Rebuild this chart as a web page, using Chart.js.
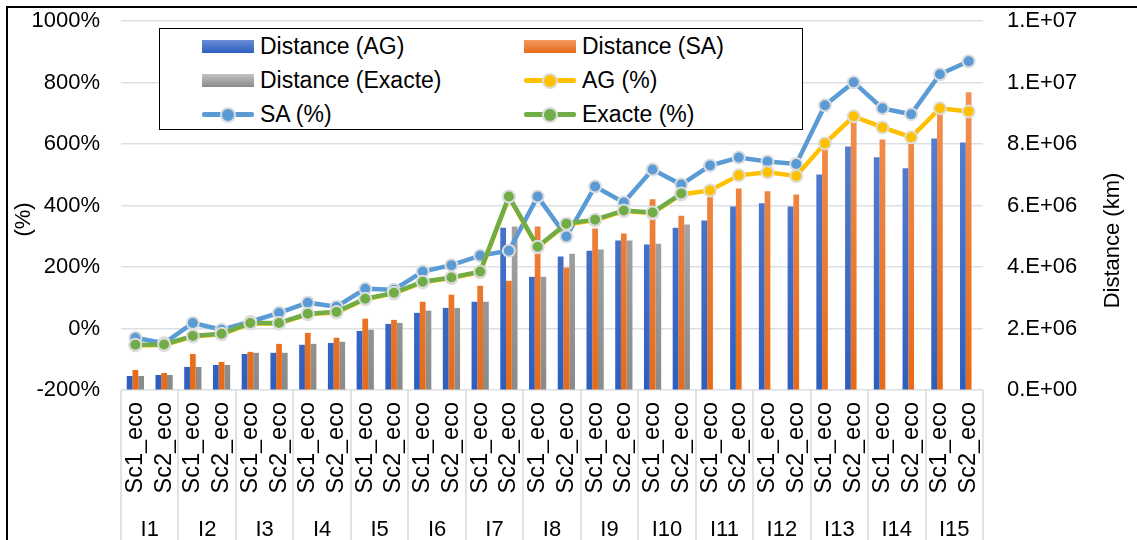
<!DOCTYPE html>
<html>
<head>
<meta charset="utf-8">
<script src="https://cdn.jsdelivr.net/npm/chart.js@4.4.1/dist/chart.umd.min.js"></script>
<style>
  body { margin: 0; background: #fff; font-family: "Liberation Sans", Arial, sans-serif; }
  #wrap { position: relative; width: 1137px; height: 540px; overflow: hidden; }
  #frame { position: absolute; left: 6px; top: 6px; width: 1200px; height: 600px;
           border-left: 2.5px solid #000; border-top: 2.5px solid #000; pointer-events: none; }
  #legend { position: absolute; left: 159px; top: 28px; width: 642px; height: 100px;
            border: 1.5px solid #000; background: #fff; }
  .item { position: absolute; height: 30px; display: flex; align-items: center;
          font-size: 23px; color: #000; white-space: nowrap; }
  .sw { position: relative; width: 52px; height: 30px; margin-right: 6px; }
  .bar { position: absolute; left: 0; top: 9px; width: 52px; height: 13px; }
  .ln { position: absolute; left: 0; top: 13px; width: 52px; height: 5px; border-radius: 2px; }
  .dot { position: absolute; left: 18px; top: 8px; width: 12px; height: 12px; border-radius: 50%;
         border: 2px solid #dcdcdc; }
</style>
</head>
<body>
<div id="wrap">
  <canvas id="chart" width="1137" height="540"></canvas>
  <div id="legend"></div>
  <div id="frame"></div>
</div>
<script>
const scenarios = ["Sc1_eco", "Sc2_eco"];
const groups = ["I1", "I2", "I3", "I4", "I5", "I6", "I7", "I8", "I9", "I10", "I11", "I12", "I13", "I14", "I15"];
const labels = groups.flatMap(() => scenarios);

// distances (km), right axis
const distAG = [456e3, 489e3, 750e3, 815e3, 1.17e6, 1.21e6, 1.47e6, 1.53e6, 1.92e6, 2.15e6,
                2.51e6, 2.67e6, 2.87e6, 5.28e6, 3.68e6, 4.34e6, 4.53e6, 4.86e6, 4.73e6, 5.28e6,
                5.51e6, 5.97e6, 6.07e6, 5.97e6, 7.01e6, 7.92e6, 7.57e6, 7.21e6, 8.18e6, 8.05e6];
const distSA = [652e3, 554e3, 1.17e6, 913e3, 1.24e6, 1.5e6, 1.86e6, 1.7e6, 2.32e6, 2.28e6,
                2.87e6, 3.1e6, 3.39e6, 3.55e6, 5.32e6, 3.98e6, 5.25e6, 5.09e6, 6.2e6, 5.67e6,
                6.3e6, 6.55e6, 6.46e6, 6.36e6, 7.85e6, 8.8e6, 8.15e6, 8.0e6, 9.1e6, 9.68e6];
const distExacte = [456e3, 489e3, 750e3, 815e3, 1.21e6, 1.21e6, 1.5e6, 1.57e6, 1.96e6, 2.18e6,
                    2.58e6, 2.67e6, 2.87e6, 5.32e6, 3.68e6, 4.43e6, 4.57e6, 4.86e6, 4.76e6, 5.38e6,
                    null, null, null, null, null, null, null, null, null, null];

// percentages, left axis
const pctAG = [-55, -54, -26, -19, 16, 16, 46, 52, 95, 114,
               150, 164, 183, 427, 264, 339, 352, 382, 375, 436,
               449, 498, 508, 496, 602, 690, 654, 622, 716, 706];
const pctSA = [-30, -48, 18, -4, 22, 51, 84, 71, 129, 126,
               185, 206, 237, 253, 429, 299, 462, 410, 517, 468,
               530, 556, 543, 535, 726, 801, 716, 697, 827, 869];
const pctExacte = [-53, -52, -24, -17, 18, 18, 48, 54, 97, 116,
                   152, 166, 185, 429, 266, 341, 354, 384, 377, 439,
                   null, null, null, null, null, null, null, null, null, null];

const FONT = "'Liberation Sans', Arial, sans-serif";
Chart.defaults.font.family = FONT;
Chart.defaults.font.size = 22;
Chart.defaults.color = "#000";

function grad(top, bottom) {
    return (c) => {
        const area = c.chart.chartArea;
        if (!area) return bottom;
        const g = c.chart.ctx.createLinearGradient(0, area.top, 0, area.bottom);
        g.addColorStop(0, top);
        g.addColorStop(1, bottom);
        return g;
    };
}

function lineSet(label, data, color, order) {
    return {
        label: label,
        type: "line",
        data: data,
        yAxisID: "y",
        borderColor: color,
        backgroundColor: color,
        borderWidth: 4.5,
        pointRadius: 6,
        pointBorderWidth: 2,
        pointBorderColor: "#dcdcdc",
        pointBackgroundColor: color,
        spanGaps: false,
        order: order
    };
}

function barSet(label, data, top, bottom) {
    return {
        label: label,
        type: "bar",
        data: data,
        yAxisID: "y1",
        backgroundColor: grad(top, bottom),
        categoryPercentage: 0.6,
        barPercentage: 1.0,
        order: 10,
        legendTop: top,
        legendBottom: bottom
    };
}

const datasets = [
    barSet("Distance (AG)", distAG, "#6A8DD6", "#2E5EBE"),
    barSet("Distance (SA)", distSA, "#F59A62", "#E76A17"),
    barSet("Distance (Exacte)", distExacte, "#C2C2C2", "#8A8A8A"),
    lineSet("AG (%)", pctAG, "#FFC000", 2),
    lineSet("SA (%)", pctSA, "#5B9BD5", 3),
    lineSet("Exacte (%)", pctExacte, "#70AD47", 1)
];

// separators under the x axis + axis titles
const extras = {
    id: "extras",
    afterDraw(chart) {
        const { ctx, chartArea, scales } = chart;
        const x = scales.x;
        ctx.save();
        ctx.strokeStyle = "#D9D9D9";
        ctx.lineWidth = 1.5;
        for (let g = 0; g <= groups.length; g++) {
            const px = Math.round(x.getPixelForValue(g * 2 - 0.5));
            ctx.beginPath();
            ctx.moveTo(px, chartArea.bottom);
            ctx.lineTo(px, chart.height);
            ctx.stroke();
        }
        ctx.fillStyle = "#000";
        ctx.font = "22px " + FONT;
        ctx.textAlign = "center";
        ctx.textBaseline = "middle";
        const mid = (chartArea.top + chartArea.bottom) / 2;
        ctx.translate(scales.y.left + 24, mid + 14);
        ctx.rotate(-Math.PI / 2);
        ctx.fillText("(%)", 0, 0);
        ctx.restore();
        ctx.save();
        ctx.fillStyle = "#000";
        ctx.font = "22px " + FONT;
        ctx.textAlign = "center";
        ctx.textBaseline = "middle";
        ctx.translate(scales.y1.right - 24, mid + 35);
        ctx.rotate(-Math.PI / 2);
        ctx.fillText("Distance (km)", 0, 0);
        ctx.restore();
    }
};

function sci(v) {
    if (v === 0) return "0.E+00";
    const e = Math.floor(Math.log10(v));
    const m = Math.round(v / Math.pow(10, e));
    return m + ".E+" + String(e).padStart(2, "0");
}

new Chart(document.getElementById("chart"), {
    data: { labels: labels, datasets: datasets },
    plugins: [extras],
    options: {
        responsive: false,
        animation: false,
        devicePixelRatio: 1,
        layout: { autoPadding: false, padding: { top: 21, left: 0, right: 0, bottom: 0 } },
        plugins: { legend: { display: false }, tooltip: { enabled: false } },
        scales: {
            x: {
                position: "bottom",
                offset: true,
                grid: { display: false, drawTicks: false },
                border: { display: false },
                ticks: { autoSkip: false, minRotation: 90, maxRotation: 90, padding: 12, font: { size: 23.5 } },
                afterFit: (s) => { s.height = 118; }
            },
            x2: {
                type: "category",
                labels: groups,
                position: "bottom",
                offset: true,
                grid: { display: false, drawTicks: false },
                border: { display: false },
                ticks: { autoSkip: false, maxRotation: 0, padding: 9 },
                afterFit: (s) => { s.height = 32; }
            },
            y: {
                position: "left",
                min: -200,
                max: 1000,
                ticks: { stepSize: 200, padding: 0, callback: (v) => v + "%" },
                grid: { color: "#DCDFE4", lineWidth: 1.5, drawTicks: true, tickLength: 21, tickColor: "rgba(0,0,0,0)" },
                border: { display: false },
                afterFit: (s) => { s.width = 121; }
            },
            y1: {
                position: "right",
                min: 0,
                max: 12e6,
                ticks: { stepSize: 2e6, padding: 0, callback: sci },
                grid: { display: true, drawOnChartArea: false, drawTicks: true, tickLength: 24, tickColor: "rgba(0,0,0,0)" },
                border: { display: false },
                afterFit: (s) => { s.width = 154; }
            }
        }
    }
});

// HTML legend in two columns
const legend = document.getElementById("legend");
datasets.forEach((d, i) => {
    const item = document.createElement("div");
    item.className = "item";
    item.style.left = (i % 2 === 0 ? 42 : 364) + "px";
    item.style.top = (2 + Math.floor(i / 2) * 34) + "px";
    const sw = document.createElement("div");
    sw.className = "sw";
    if (d.type === "bar") {
        const b = document.createElement("div");
        b.className = "bar";
        b.style.background = "linear-gradient(" + d.legendTop + "," + d.legendBottom + ")";
        sw.appendChild(b);
    } else {
        const l = document.createElement("div");
        l.className = "ln";
        l.style.background = d.borderColor;
        const dot = document.createElement("div");
        dot.className = "dot";
        dot.style.background = d.borderColor;
        sw.appendChild(l);
        sw.appendChild(dot);
    }
    item.appendChild(sw);
    item.appendChild(document.createTextNode(d.label));
    legend.appendChild(item);
});
</script>
</body>
</html>
